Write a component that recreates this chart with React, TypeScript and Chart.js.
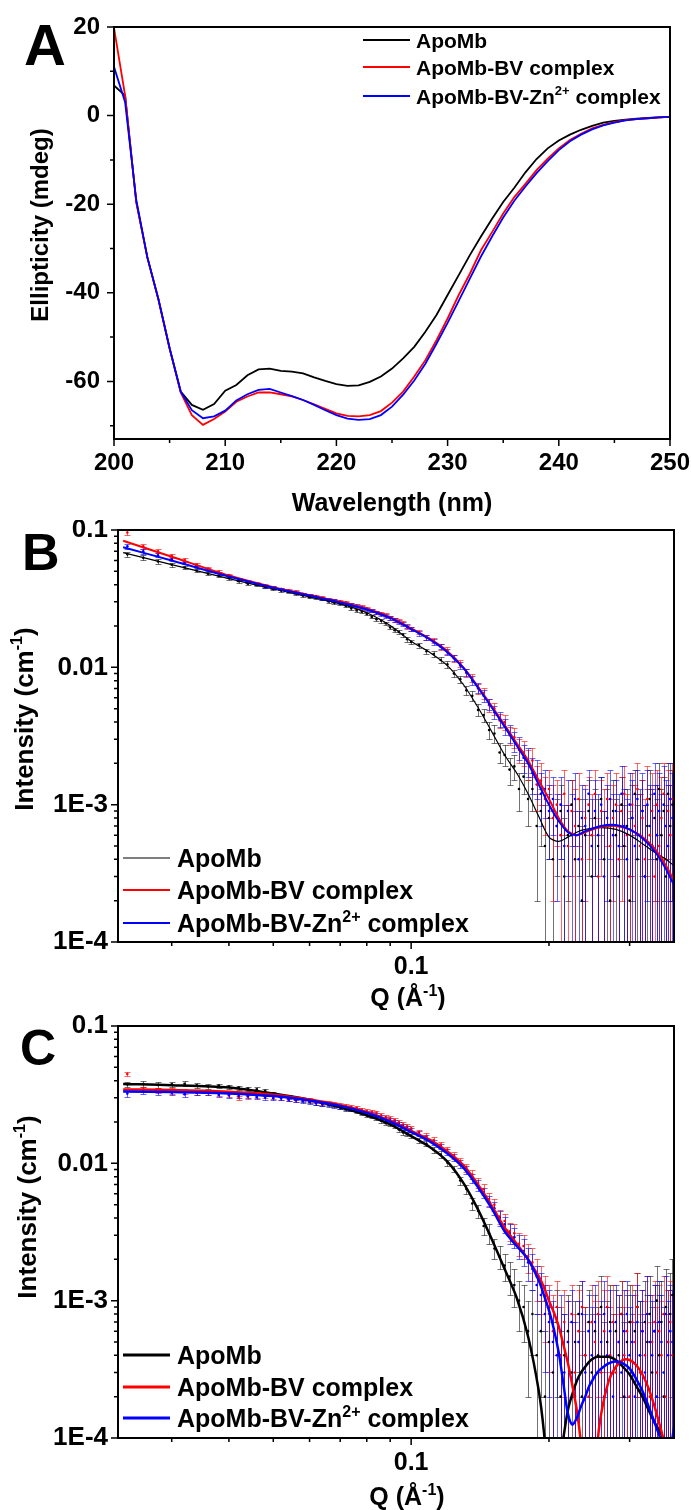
import React, { useEffect, useRef } from "react";
import { Chart, registerables } from "chart.js";
Chart.register(...registerables);

const FONT = '"Liberation Sans", Arial, Helvetica, sans-serif';
const BLACK = "#000000";
const RED = "#ff0000";
const BLUE = "#0000ff";

// ---------------- Panel A : CD spectra ----------------
const wavelength = [
  200, 201, 202, 203, 204, 205, 206, 207, 208, 209,
  210, 211, 212, 213, 214, 215, 216, 217, 218, 219,
  220, 221, 222, 223, 224, 225, 226, 227, 228, 229,
  230, 231, 232, 233, 234, 235, 236, 237, 238, 239,
  240, 241, 242, 243, 244, 245, 246, 247, 248, 249, 250,
];
const cdApoMb = [
  6.8, 4.5, -19.5, -32, -41.5, -52.5, -62.3, -65.3, -66.4, -65.1,
  -62.1, -60.8, -58.6, -57.3, -57.1, -57.6, -57.8, -58.2, -59.1, -59.9,
  -60.6, -61.0, -60.9, -60.1, -58.9, -57.1, -54.8, -52.2, -48.8, -45.0,
  -40.5, -36.0, -31.5, -27.3, -23.3, -19.5, -16.3, -12.8, -9.8, -7.4,
  -5.6, -4.3, -3.2, -2.3, -1.6, -1.2, -0.9, -0.7, -0.5, -0.4, -0.3,
];
const cdApoMbBV = [
  19.8, 4.5, -19.5, -32, -41.5, -52.5, -62.5, -67.6, -69.8, -68.5,
  -66.8, -64.6, -63.4, -62.5, -62.5, -62.9, -63.4, -64.2, -65.2, -66.2,
  -67.2, -67.8, -67.9, -67.6, -66.7, -64.8, -62.3, -58.9, -55.2, -50.7,
  -45.8, -40.5, -35.7, -30.4, -26.3, -22.1, -18.4, -15.4, -12.3, -9.7,
  -7.4, -5.5, -4.1, -2.9, -2.1, -1.5, -1.0, -0.8, -0.6, -0.4, -0.3,
];
const cdApoMbBVZn = [
  11.0, 3.0, -19.0, -32, -41.5, -52.5, -62.3, -66.5, -68.3, -67.9,
  -66.6, -64.3, -62.9, -61.9, -61.7, -62.5, -63.3, -64.2, -65.3, -66.5,
  -67.6, -68.4, -68.7, -68.5, -67.6, -65.7, -63.0, -59.8, -56.0, -51.5,
  -46.8, -41.8, -36.8, -31.8, -27.3, -23.0, -19.2, -16.0, -13.0, -10.3,
  -7.8, -5.8, -4.3, -3.1, -2.2, -1.6, -1.1, -0.8, -0.6, -0.4, -0.3,
];
const aXTicks = [200, 210, 220, 230, 240, 250];
const aXTickLabels = ["200", "210", "220", "230", "240", "250"];
const aXMinor = [205, 215, 225, 235, 245];
const aYTicks = [20, 0, -20, -40, -60];
const aYTickLabels = ["20", "0", "-20", "-40", "-60"];
const aYMinor = [10, -10, -30, -50, -70];

// ---------------- Panels B, C : SAXS ----------------
const qData = [
  0.024, 0.026, 0.028, 0.030, 0.032, 0.034, 0.036, 0.038, 0.040, 0.042,
  0.044, 0.046, 0.048, 0.050, 0.052, 0.054, 0.056, 0.058, 0.060, 0.062,
  0.064, 0.066, 0.068, 0.070, 0.072, 0.074, 0.076, 0.078, 0.080, 0.082,
  0.084, 0.086, 0.088, 0.090, 0.092, 0.094, 0.096, 0.098, 0.100,
  0.104, 0.108, 0.112, 0.116, 0.120, 0.124, 0.128, 0.132, 0.136, 0.140,
  0.144, 0.148, 0.152, 0.156, 0.160, 0.164, 0.168, 0.172, 0.176, 0.180,
  0.184, 0.188, 0.192, 0.196, 0.200, 0.204, 0.208, 0.212, 0.216, 0.220,
  0.224, 0.228, 0.232, 0.236, 0.240, 0.244, 0.248, 0.252, 0.256, 0.260,
  0.264, 0.268, 0.272, 0.276, 0.280, 0.284, 0.288, 0.292, 0.296, 0.300,
  0.304, 0.308, 0.312, 0.316, 0.320, 0.324, 0.328, 0.332, 0.336, 0.340,
  0.344, 0.348, 0.352, 0.356, 0.360, 0.364, 0.368, 0.372,
];

// Panel B data
const bApoMbI = [
  0.0665, 0.0628, 0.0590, 0.0558, 0.0533, 0.0505, 0.0480, 0.0462, 0.0445, 0.0423,
  0.0406, 0.0398, 0.0386, 0.0372, 0.0362, 0.0355, 0.0346, 0.0333, 0.0324, 0.0320,
  0.0313, 0.0302, 0.0294, 0.0289, 0.0280, 0.0268, 0.0259, 0.0254, 0.0245, 0.0233,
  0.0224, 0.0218, 0.0209, 0.0195, 0.0186, 0.0181, 0.0173, 0.0160, 0.0153,
  0.0145, 0.0131, 0.0125, 0.0113, 0.0105, 0.0090, 0.0082, 0.0068, 0.0062, 0.0049,
  0.0045, 0.0035, 0.0033, 0.0024, 0.0023, 0.0018, 0.0019, 0.0013, 0.0016, 0.0011,
  0.0013, 0.0007, 0.0009, 0.0005, 0.0008, 0.0004, 0.0007, 0.0009, 0.0003, 0.0006,
  0.0010, 0.0004, 0.0007, 0.0002, 0.0006, 0.0009, 0.0003, 0.0008, 0.0005, 0.0011,
  0.0004, 0.0007, 0.0002, 0.0009, 0.0006, 0.0003, 0.0010, 0.0005, 0.0007, 0.0002,
  0.0008, 0.0012, 0.0004, 0.0006, 0.0009, 0.0003, 0.0007, 0.0011, 0.0005, 0.0008,
  0.0004, 0.0013, 0.0006, 0.0009, 0.0003, 0.0012, 0.0007, 0.0010,
];
const bApoMbErr = [
  0.0030, 0.0026, 0.0022, 0.0019, 0.0016, 0.0014, 0.0012, 0.0011, 0.0010, 0.0009,
  0.0009, 0.0008, 0.0008, 0.0007, 0.0007, 0.0007, 0.0007, 0.0006, 0.0006, 0.0006,
  0.0006, 0.0006, 0.0006, 0.0006, 0.0006, 0.0006, 0.0006, 0.0006, 0.0006, 0.0006,
  0.0006, 0.0006, 0.0006, 0.0006, 0.0006, 0.0006, 0.0006, 0.0006, 0.0006,
  0.0006, 0.0006, 0.0006, 0.0006, 0.0006, 0.0005, 0.0005, 0.0005, 0.0005, 0.0005,
  0.0005, 0.0005, 0.0005, 0.0004, 0.0004, 0.0004, 0.0004, 0.0004, 0.0004, 0.0004,
  0.0004, 0.0005, 0.0004, 0.0005, 0.0004, 0.0005, 0.0004, 0.0005, 0.0005, 0.0004,
  0.0005, 0.0005, 0.0004, 0.0005, 0.0005, 0.0006, 0.0005, 0.0005, 0.0006, 0.0005,
  0.0005, 0.0006, 0.0005, 0.0006, 0.0005, 0.0006, 0.0006, 0.0005, 0.0006, 0.0006,
  0.0006, 0.0006, 0.0006, 0.0006, 0.0006, 0.0007, 0.0006, 0.0007, 0.0007, 0.0006,
  0.0007, 0.0007, 0.0007, 0.0007, 0.0007, 0.0008, 0.0007, 0.0008,
];
const bBVI = [
  0.0960, 0.0760, 0.0700, 0.0648, 0.0605, 0.0560, 0.0522, 0.0497, 0.0470, 0.0440,
  0.0418, 0.0408, 0.0395, 0.0380, 0.0371, 0.0364, 0.0355, 0.0342, 0.0334, 0.0330,
  0.0322, 0.0310, 0.0305, 0.0302, 0.0297, 0.0286, 0.0279, 0.0276, 0.0269, 0.0258,
  0.0251, 0.0247, 0.0240, 0.0228, 0.0220, 0.0216, 0.0210, 0.0197, 0.0190,
  0.0181, 0.0165, 0.0157, 0.0141, 0.0133, 0.0116, 0.0107, 0.0091, 0.0084, 0.0070,
  0.0065, 0.0053, 0.0050, 0.0041, 0.0040, 0.0032, 0.0031, 0.0025, 0.0024, 0.0020,
  0.0021, 0.0014, 0.0015, 0.0011, 0.0013, 0.0008, 0.0010, 0.0006, 0.0012, 0.0005,
  0.0009, 0.0007, 0.0011, 0.0004, 0.0008, 0.0010, 0.0006, 0.0012, 0.0003, 0.0009,
  0.0007, 0.0011, 0.0005, 0.0008, 0.0010, 0.0004, 0.0009, 0.0012, 0.0006, 0.0003,
  0.0010, 0.0007, 0.0013, 0.0005, 0.0008, 0.0004, 0.0011, 0.0006, 0.0009, 0.0003,
  0.0010, 0.0005, 0.0008, 0.0012, 0.0004, 0.0009, 0.0006, 0.0011,
];
const bBVErr = [
  0.0040, 0.0030, 0.0024, 0.0020, 0.0017, 0.0015, 0.0013, 0.0012, 0.0011, 0.0010,
  0.0010, 0.0009, 0.0009, 0.0008, 0.0008, 0.0008, 0.0008, 0.0007, 0.0007, 0.0007,
  0.0007, 0.0007, 0.0007, 0.0007, 0.0007, 0.0007, 0.0007, 0.0007, 0.0007, 0.0007,
  0.0007, 0.0007, 0.0007, 0.0007, 0.0007, 0.0007, 0.0007, 0.0007, 0.0007,
  0.0007, 0.0007, 0.0007, 0.0007, 0.0007, 0.0006, 0.0006, 0.0006, 0.0006, 0.0006,
  0.0006, 0.0006, 0.0005, 0.0005, 0.0005, 0.0005, 0.0005, 0.0005, 0.0005, 0.0005,
  0.0005, 0.0005, 0.0005, 0.0005, 0.0005, 0.0006, 0.0005, 0.0006, 0.0006, 0.0005,
  0.0006, 0.0006, 0.0006, 0.0005, 0.0006, 0.0006, 0.0006, 0.0006, 0.0005, 0.0006,
  0.0006, 0.0006, 0.0006, 0.0006, 0.0007, 0.0006, 0.0007, 0.0007, 0.0006, 0.0006,
  0.0007, 0.0007, 0.0007, 0.0007, 0.0007, 0.0007, 0.0008, 0.0007, 0.0008, 0.0007,
  0.0008, 0.0008, 0.0008, 0.0008, 0.0008, 0.0009, 0.0008, 0.0009,
];
const bZnI = [
  0.0760, 0.0700, 0.0655, 0.0612, 0.0578, 0.0545, 0.0512, 0.0484, 0.0460, 0.0438,
  0.0420, 0.0404, 0.0390, 0.0382, 0.0372, 0.0360, 0.0350, 0.0341, 0.0334, 0.0326,
  0.0318, 0.0312, 0.0306, 0.0298, 0.0292, 0.0287, 0.0280, 0.0272, 0.0265, 0.0259,
  0.0252, 0.0243, 0.0236, 0.0229, 0.0221, 0.0214, 0.0206, 0.0199, 0.0191,
  0.0177, 0.0166, 0.0153, 0.0142, 0.0129, 0.0117, 0.0103, 0.0092, 0.0080, 0.0071,
  0.0062, 0.0054, 0.0047, 0.0042, 0.0037, 0.0033, 0.0029, 0.0026, 0.0022, 0.0021,
  0.0017, 0.0016, 0.0012, 0.0013, 0.0009, 0.0011, 0.0007, 0.0010, 0.0005, 0.0009,
  0.0006, 0.0011, 0.0004, 0.0008, 0.0007, 0.0012, 0.0005, 0.0009, 0.0006, 0.0010,
  0.0003, 0.0008, 0.0011, 0.0006, 0.0009, 0.0005, 0.0012, 0.0007, 0.0004, 0.0010,
  0.0008, 0.0005, 0.0011, 0.0006, 0.0009, 0.0003, 0.0010, 0.0007, 0.0005, 0.0012,
  0.0006, 0.0009, 0.0004, 0.0010, 0.0007, 0.0005, 0.0011, 0.0008,
];
const bZnErr = [
  0.0032, 0.0027, 0.0022, 0.0019, 0.0016, 0.0014, 0.0013, 0.0012, 0.0011, 0.0010,
  0.0010, 0.0009, 0.0009, 0.0008, 0.0008, 0.0008, 0.0008, 0.0007, 0.0007, 0.0007,
  0.0007, 0.0007, 0.0007, 0.0007, 0.0007, 0.0007, 0.0007, 0.0007, 0.0007, 0.0007,
  0.0007, 0.0007, 0.0007, 0.0007, 0.0007, 0.0007, 0.0007, 0.0007, 0.0007,
  0.0007, 0.0007, 0.0007, 0.0006, 0.0006, 0.0006, 0.0006, 0.0006, 0.0006, 0.0006,
  0.0006, 0.0005, 0.0005, 0.0005, 0.0005, 0.0005, 0.0005, 0.0005, 0.0005, 0.0005,
  0.0005, 0.0005, 0.0005, 0.0005, 0.0005, 0.0005, 0.0005, 0.0006, 0.0005, 0.0006,
  0.0006, 0.0006, 0.0005, 0.0006, 0.0006, 0.0006, 0.0006, 0.0006, 0.0006, 0.0006,
  0.0006, 0.0006, 0.0007, 0.0006, 0.0006, 0.0007, 0.0007, 0.0006, 0.0007, 0.0007,
  0.0007, 0.0007, 0.0007, 0.0007, 0.0008, 0.0007, 0.0008, 0.0007, 0.0008, 0.0008,
  0.0008, 0.0008, 0.0008, 0.0009, 0.0008, 0.0009, 0.0009, 0.0009,
];
const qFitB = [
  0.0235, 0.03, 0.04, 0.05, 0.06, 0.07, 0.08, 0.09, 0.10, 0.11,
  0.12, 0.13, 0.14, 0.15, 0.16, 0.17, 0.18, 0.19, 0.20, 0.21,
  0.22, 0.23, 0.24, 0.26, 0.28, 0.30, 0.32, 0.34, 0.36, 0.375,
];
const bApoMbFit = [
  0.0684, 0.0560, 0.0442, 0.0372, 0.0326, 0.0290, 0.0250, 0.0202, 0.0155, 0.0128,
  0.0103, 0.0075, 0.0051, 0.0034, 0.0023, 0.0017, 0.0012, 0.00082, 0.00058, 0.00054,
  0.00058, 0.00063, 0.00066, 0.00068, 0.00066, 0.00060, 0.00052, 0.00045, 0.00040, 0.00036,
];
const bBVFit = [
  0.0836, 0.0639, 0.0466, 0.0383, 0.0336, 0.0300, 0.0267, 0.0232, 0.0192, 0.0161,
  0.0131, 0.0100, 0.0072, 0.0052, 0.0038, 0.0028, 0.0021, 0.0015, 0.0011, 0.00080,
  0.00064, 0.00060, 0.00063, 0.00069, 0.00070, 0.00066, 0.00058, 0.00048, 0.00036, 0.00028,
];
const bZnFit = [
  0.0748, 0.0600, 0.0458, 0.0380, 0.0333, 0.0297, 0.0264, 0.0229, 0.0190, 0.0159,
  0.0129, 0.0099, 0.0071, 0.0051, 0.0037, 0.0027, 0.0020, 0.0014, 0.0010, 0.00076,
  0.00063, 0.00060, 0.00064, 0.00070, 0.00071, 0.00066, 0.00057, 0.00046, 0.00034, 0.00026,
];

// Panel C data
const cApoMbI = [
  0.0375, 0.0378, 0.0372, 0.0376, 0.0380, 0.0370, 0.0363, 0.0368, 0.0362, 0.0356,
  0.0350, 0.0346, 0.0338, 0.0322, 0.0312, 0.0304, 0.0296, 0.0290, 0.0283, 0.0276,
  0.0270, 0.0268, 0.0263, 0.0254, 0.0248, 0.0245, 0.0240, 0.0231, 0.0223, 0.0219,
  0.0214, 0.0204, 0.0196, 0.0192, 0.0186, 0.0176, 0.0168, 0.0163, 0.0158,
  0.0147, 0.0139, 0.0125, 0.0116, 0.0101, 0.0091, 0.0075, 0.0065, 0.0051, 0.0045,
  0.0035, 0.0031, 0.0024, 0.0021, 0.0018, 0.0015, 0.0013, 0.0010, 0.0009, 0.0006,
  0.0008, 0.0004, 0.0006, 0.0002, 0.0005, 0.0003, 0.0007, 0.0002, 0.0004, 0.0006,
  0.0003, 0.0005, 0.0008, 0.0002, 0.0004, 0.0007, 0.0003, 0.0006, 0.0004, 0.0009,
  0.0002, 0.0005, 0.0007, 0.0003, 0.0006, 0.0004, 0.0008, 0.0002, 0.0005, 0.0007,
  0.0003, 0.0006, 0.0009, 0.0004, 0.0002, 0.0007, 0.0005, 0.0008, 0.0003, 0.0006,
  0.0010, 0.0004, 0.0007, 0.0002, 0.0009, 0.0005, 0.0008, 0.0011,
];
const cApoMbErr = [
  0.0018, 0.0017, 0.0016, 0.0015, 0.0015, 0.0014, 0.0013, 0.0013, 0.0012, 0.0012,
  0.0011, 0.0011, 0.0010, 0.0010, 0.0009, 0.0009, 0.0009, 0.0009, 0.0008, 0.0008,
  0.0007, 0.0007, 0.0006, 0.0006, 0.0006, 0.0006, 0.0006, 0.0006, 0.0006, 0.0006,
  0.0006, 0.0006, 0.0006, 0.0006, 0.0006, 0.0006, 0.0006, 0.0006, 0.0006,
  0.0006, 0.0006, 0.0006, 0.0006, 0.0005, 0.0005, 0.0005, 0.0005, 0.0005, 0.0005,
  0.0005, 0.0005, 0.0004, 0.0004, 0.0004, 0.0004, 0.0004, 0.0004, 0.0004, 0.0004,
  0.0004, 0.0004, 0.0004, 0.0004, 0.0004, 0.0004, 0.0005, 0.0004, 0.0004, 0.0005,
  0.0004, 0.0005, 0.0005, 0.0004, 0.0005, 0.0005, 0.0005, 0.0005, 0.0005, 0.0006,
  0.0005, 0.0005, 0.0006, 0.0005, 0.0006, 0.0005, 0.0006, 0.0005, 0.0006, 0.0006,
  0.0005, 0.0006, 0.0007, 0.0006, 0.0005, 0.0007, 0.0006, 0.0007, 0.0006, 0.0007,
  0.0008, 0.0007, 0.0007, 0.0006, 0.0008, 0.0007, 0.0008, 0.0009,
];
const cBVI = [
  0.0447, 0.0345, 0.0340, 0.0336, 0.0333, 0.0326, 0.0330, 0.0322, 0.0318, 0.0300,
  0.0305, 0.0309, 0.0311, 0.0304, 0.0300, 0.0293, 0.0287, 0.0291, 0.0289, 0.0282,
  0.0276, 0.0274, 0.0270, 0.0265, 0.0262, 0.0258, 0.0254, 0.0246, 0.0240, 0.0237,
  0.0233, 0.0224, 0.0217, 0.0213, 0.0207, 0.0199, 0.0192, 0.0186, 0.0180,
  0.0169, 0.0158, 0.0148, 0.0137, 0.0126, 0.0114, 0.0104, 0.0093, 0.0083, 0.0072,
  0.0065, 0.0055, 0.0050, 0.0041, 0.0038, 0.0032, 0.0031, 0.0026, 0.0025, 0.0021,
  0.0019, 0.0015, 0.0013, 0.0010, 0.0008, 0.0006, 0.0009, 0.0004, 0.0007, 0.0005,
  0.0008, 0.0003, 0.0006, 0.0009, 0.0004, 0.0002, 0.0007, 0.0005, 0.0008, 0.0003,
  0.0006, 0.0009, 0.0004, 0.0007, 0.0003, 0.0005, 0.0008, 0.0004, 0.0006, 0.0002,
  0.0007, 0.0005, 0.0009, 0.0003, 0.0006, 0.0004, 0.0008, 0.0002, 0.0005, 0.0007,
  0.0003, 0.0006, 0.0004, 0.0008, 0.0002, 0.0005, 0.0007, 0.0004,
];
const cBVErr = [
  0.0018, 0.0017, 0.0016, 0.0015, 0.0015, 0.0014, 0.0013, 0.0012, 0.0012, 0.0011,
  0.0011, 0.0010, 0.0010, 0.0010, 0.0009, 0.0009, 0.0009, 0.0009, 0.0009, 0.0008,
  0.0008, 0.0008, 0.0008, 0.0008, 0.0008, 0.0008, 0.0008, 0.0008, 0.0008, 0.0007,
  0.0007, 0.0007, 0.0007, 0.0007, 0.0007, 0.0007, 0.0007, 0.0007, 0.0007,
  0.0007, 0.0007, 0.0007, 0.0007, 0.0006, 0.0006, 0.0006, 0.0006, 0.0006, 0.0006,
  0.0006, 0.0006, 0.0005, 0.0005, 0.0005, 0.0005, 0.0005, 0.0005, 0.0005, 0.0005,
  0.0005, 0.0005, 0.0005, 0.0005, 0.0005, 0.0005, 0.0005, 0.0005, 0.0005, 0.0005,
  0.0005, 0.0005, 0.0006, 0.0005, 0.0005, 0.0005, 0.0006, 0.0005, 0.0006, 0.0005,
  0.0006, 0.0006, 0.0005, 0.0006, 0.0005, 0.0006, 0.0006, 0.0005, 0.0006, 0.0005,
  0.0006, 0.0006, 0.0007, 0.0005, 0.0006, 0.0006, 0.0007, 0.0005, 0.0006, 0.0007,
  0.0006, 0.0007, 0.0006, 0.0007, 0.0006, 0.0007, 0.0007, 0.0007,
];
const cZnI = [
  0.0322, 0.0334, 0.0330, 0.0326, 0.0318, 0.0329, 0.0325, 0.0315, 0.0312, 0.0310,
  0.0308, 0.0303, 0.0300, 0.0298, 0.0296, 0.0291, 0.0288, 0.0284, 0.0280, 0.0273,
  0.0268, 0.0266, 0.0262, 0.0256, 0.0252, 0.0248, 0.0244, 0.0237, 0.0232, 0.0229,
  0.0224, 0.0216, 0.0210, 0.0206, 0.0200, 0.0193, 0.0187, 0.0181, 0.0175,
  0.0164, 0.0154, 0.0143, 0.0133, 0.0121, 0.0110, 0.0099, 0.0089, 0.0078, 0.0069,
  0.0061, 0.0053, 0.0047, 0.0040, 0.0036, 0.0031, 0.0029, 0.0025, 0.0023, 0.0019,
  0.0017, 0.0013, 0.0011, 0.0008, 0.0007, 0.0005, 0.0004, 0.0006, 0.0003, 0.0005,
  0.0007, 0.0002, 0.0005, 0.0008, 0.0003, 0.0006, 0.0004, 0.0007, 0.0003, 0.0005,
  0.0008, 0.0004, 0.0006, 0.0002, 0.0007, 0.0005, 0.0003, 0.0006, 0.0008, 0.0004,
  0.0005, 0.0002, 0.0007, 0.0004, 0.0006, 0.0003, 0.0008, 0.0005, 0.0004, 0.0006,
  0.0002, 0.0007, 0.0005, 0.0003, 0.0008, 0.0004, 0.0006, 0.0005,
];
const cZnErr = [
  0.0016, 0.0016, 0.0015, 0.0014, 0.0014, 0.0013, 0.0012, 0.0012, 0.0011, 0.0010,
  0.0010, 0.0009, 0.0009, 0.0009, 0.0009, 0.0008, 0.0008, 0.0008, 0.0008, 0.0008,
  0.0008, 0.0008, 0.0008, 0.0007, 0.0007, 0.0007, 0.0007, 0.0007, 0.0007, 0.0007,
  0.0007, 0.0007, 0.0007, 0.0007, 0.0007, 0.0007, 0.0007, 0.0007, 0.0007,
  0.0007, 0.0007, 0.0006, 0.0006, 0.0006, 0.0006, 0.0006, 0.0006, 0.0006, 0.0006,
  0.0005, 0.0005, 0.0005, 0.0005, 0.0005, 0.0005, 0.0005, 0.0005, 0.0005, 0.0005,
  0.0005, 0.0005, 0.0005, 0.0005, 0.0005, 0.0005, 0.0005, 0.0005, 0.0005, 0.0005,
  0.0005, 0.0005, 0.0005, 0.0006, 0.0005, 0.0005, 0.0005, 0.0006, 0.0005, 0.0005,
  0.0006, 0.0005, 0.0006, 0.0005, 0.0006, 0.0006, 0.0005, 0.0006, 0.0006, 0.0005,
  0.0006, 0.0005, 0.0006, 0.0006, 0.0006, 0.0005, 0.0007, 0.0006, 0.0006, 0.0007,
  0.0005, 0.0007, 0.0006, 0.0006, 0.0007, 0.0006, 0.0007, 0.0007,
];
const qFitC = [
  0.0235, 0.03, 0.04, 0.05, 0.06, 0.07, 0.08, 0.09, 0.10, 0.11,
  0.12, 0.13, 0.14, 0.15, 0.16, 0.17, 0.18, 0.19, 0.195, 0.20,
  0.205, 0.21, 0.215, 0.22, 0.225, 0.23, 0.235, 0.24, 0.245, 0.25,
  0.255, 0.26, 0.27, 0.28, 0.29, 0.30, 0.31, 0.32, 0.33, 0.34,
  0.35, 0.355, 0.36, 0.365, 0.37, 0.375,
];
const cApoMbFit = [
  0.0378, 0.0371, 0.0356, 0.0322, 0.0290, 0.0256, 0.0224, 0.0192, 0.0158, 0.0131,
  0.0103, 0.0072, 0.0046, 0.0028, 0.0017, 0.00105, 0.00055, 0.00022, 0.00011, 0.00004,
  0.00001, 0.00006, 0.00010, 0.00016, 0.00021, 0.00026, 0.00030, 0.00033, 0.00036, 0.00038,
  0.00039, 0.00039, 0.00039, 0.00037, 0.00033, 0.00029, 0.00024, 0.00020, 0.00016, 0.00013,
  0.00011, 0.00010, 0.00009, 0.00008, 0.00008, 0.00009,
];
const cBVFit = [
  0.0345, 0.0342, 0.0332, 0.0316, 0.0292, 0.0266, 0.0236, 0.0204, 0.0172, 0.0148,
  0.0122, 0.0097, 0.0070, 0.0049, 0.0034, 0.0026, 0.0020, 0.0015, 0.00125, 0.0010,
  0.00082, 0.00065, 0.00048, 0.00035, 0.00024, 0.00016, 0.00009, 0.00004, 0.000015, 0.00004,
  0.00009, 0.00015, 0.00026, 0.00033, 0.00037, 0.00037, 0.00034, 0.00029, 0.00023, 0.00017,
  0.00012, 0.00010, 0.00008, 0.00007, 0.00008, 0.00011,
];
const cZnFit = [
  0.0333, 0.0331, 0.0323, 0.0309, 0.0287, 0.0262, 0.0233, 0.0201, 0.0169, 0.0144,
  0.0118, 0.0093, 0.0067, 0.0047, 0.0032, 0.0025, 0.0020, 0.0014, 0.0011, 0.00085,
  0.00062, 0.00042, 0.00025, 0.00015, 0.000125, 0.00014, 0.00017, 0.00020, 0.00024, 0.00027,
  0.00030, 0.00032, 0.00035, 0.00036, 0.00035, 0.00032, 0.00027, 0.00022, 0.00017, 0.00013,
  0.00010, 0.00009, 0.00008, 0.00008, 0.00009, 0.00012,
];

const qTicks = [0.1];
const qTickLabels = ["0.1"];
const qMinor = [0.03, 0.04, 0.05, 0.06, 0.07, 0.08, 0.09, 0.2, 0.3];
const iTicks = [0.1, 0.01, 0.001, 0.0001];
const iTickLabels = ["0.1", "0.01", "1E-3", "1E-4"];
const iMinor = [
  0.0002, 0.0003, 0.0004, 0.0005, 0.0006, 0.0007, 0.0008, 0.0009,
  0.002, 0.003, 0.004, 0.005, 0.006, 0.007, 0.008, 0.009,
  0.02, 0.03, 0.04, 0.05, 0.06, 0.07, 0.08, 0.09,
];

const seriesNames = ["ApoMb", "ApoMb-BV complex", "ApoMb-BV-Zn"];

// ---------------- helpers ----------------
type Part = { t: string; sup?: boolean };

function drawRich(
  ctx: CanvasRenderingContext2D,
  parts: Part[],
  x: number,
  y: number,
  size: number,
  align: "left" | "center",
  rotate = false
) {
  ctx.save();
  ctx.translate(x, y);
  if (rotate) ctx.rotate(-Math.PI / 2);
  const supSize = Math.round(size * 0.62);
  const widths = parts.map((p) => {
    ctx.font = `bold ${p.sup ? supSize : size}px ${FONT}`;
    return ctx.measureText(p.t).width;
  });
  const total = widths.reduce((a, b) => a + b, 0);
  let cx = align === "center" ? -total / 2 : 0;
  const base = size * 0.36;
  ctx.fillStyle = "#000";
  ctx.textAlign = "left";
  ctx.textBaseline = "alphabetic";
  parts.forEach((p, i) => {
    ctx.font = `bold ${p.sup ? supSize : size}px ${FONT}`;
    ctx.fillText(p.t, cx, p.sup ? base - size * 0.42 : base);
    cx += widths[i];
  });
  ctx.restore();
}

interface LegendItem { parts: Part[]; color: string; width: number }
interface ErrSeries { q: number[]; I: number[]; e: number[]; color: string }
interface PanelSpec {
  id: string;
  letter: string; letterX: number; letterY: number; letterSize: number;
  xTitle: Part[]; xTitleX: number; xTitleY: number; xTitleSize: number;
  yTitle: Part[]; yTitleX: number; yTitleY: number; yTitleSize: number;
  legend: { x0: number; x1: number; tx: number; ys: number[]; size: number; items: LegendItem[] };
  xMajor: number[]; xMinor: number[]; yMajor: number[]; yMinor: number[];
  errors?: ErrSeries[];
}

function panelPlugin(spec: PanelSpec) {
  return {
    id: spec.id,
    beforeDatasetsDraw(chart: any) {
      if (!spec.errors) return;
      const { ctx, chartArea: a } = chart;
      const xs = chart.scales.x;
      const ys = chart.scales.y;
      ctx.save();
      ctx.beginPath();
      ctx.rect(a.left, a.top, a.right - a.left, a.bottom - a.top);
      ctx.clip();
      for (const s of spec.errors) {
        ctx.strokeStyle = s.color;
        ctx.lineWidth = 1;
        ctx.beginPath();
        for (let i = 0; i < s.q.length; i++) {
          const px = Math.round(xs.getPixelForValue(s.q[i])) + 0.5;
          const hi = s.I[i] + s.e[i];
          const lo = s.I[i] - s.e[i];
          const pyHi = Math.round(ys.getPixelForValue(hi)) + 0.5;
          const pyLo = lo > 0 ? Math.round(ys.getPixelForValue(lo)) + 0.5 : a.bottom + 5;
          ctx.moveTo(px, pyHi);
          ctx.lineTo(px, pyLo);
          ctx.moveTo(px - 3, pyHi);
          ctx.lineTo(px + 3, pyHi);
          if (lo > 0) {
            ctx.moveTo(px - 3, pyLo);
            ctx.lineTo(px + 3, pyLo);
          }
        }
        ctx.stroke();
      }
      ctx.restore();
    },
    afterDraw(chart: any) {
      const { ctx, chartArea: a } = chart;
      const xs = chart.scales.x;
      const ys = chart.scales.y;
      ctx.save();
      ctx.strokeStyle = "#000";
      ctx.lineWidth = 2;
      ctx.strokeRect(a.left, a.top, a.right - a.left, a.bottom - a.top);
      ctx.lineWidth = 1.5;
      ctx.beginPath();
      const tick = (v: number, len: number, axis: "x" | "y") => {
        if (axis === "x") {
          const p = xs.getPixelForValue(v);
          if (p < a.left - 0.5 || p > a.right + 0.5) return;
          ctx.moveTo(p, a.bottom);
          ctx.lineTo(p, a.bottom + len);
        } else {
          const p = ys.getPixelForValue(v);
          if (p < a.top - 0.5 || p > a.bottom + 0.5) return;
          ctx.moveTo(a.left, p);
          ctx.lineTo(a.left - len, p);
        }
      };
      spec.xMajor.forEach((v) => tick(v, 7, "x"));
      spec.xMinor.forEach((v) => tick(v, 4, "x"));
      spec.yMajor.forEach((v) => tick(v, 7, "y"));
      spec.yMinor.forEach((v) => tick(v, 4, "y"));
      ctx.stroke();
      drawRich(ctx, spec.xTitle, spec.xTitleX, spec.xTitleY, spec.xTitleSize, "center");
      drawRich(ctx, spec.yTitle, spec.yTitleX, spec.yTitleY, spec.yTitleSize, "center", true);
      const lg = spec.legend;
      lg.items.forEach((it, i) => {
        const y = lg.ys[i];
        ctx.strokeStyle = it.color;
        ctx.lineWidth = it.width;
        ctx.beginPath();
        ctx.moveTo(lg.x0, y);
        ctx.lineTo(lg.x1, y);
        ctx.stroke();
        drawRich(ctx, it.parts, lg.tx, y, lg.size, "left");
      });
      ctx.fillStyle = "#000";
      ctx.font = `bold ${spec.letterSize}px ${FONT}`;
      ctx.textAlign = "left";
      ctx.textBaseline = "alphabetic";
      ctx.fillText(spec.letter, spec.letterX, spec.letterY);
      ctx.restore();
    },
  };
}

function labelFor(values: number[], labels: string[]) {
  return (v: any) => {
    const i = values.findIndex((t) => Math.abs(t - v) <= Math.abs(t) * 1e-6 + 1e-12);
    return i >= 0 ? labels[i] : "";
  };
}

function legendItems(widths: number[]): LegendItem[] {
  return [
    { parts: [{ t: seriesNames[0] }], color: BLACK, width: widths[0] },
    { parts: [{ t: seriesNames[1] }], color: RED, width: widths[1] },
    {
      parts: [{ t: seriesNames[2] }, { t: "2+", sup: true }, { t: " complex" }],
      color: BLUE,
      width: widths[2],
    },
  ];
}

function xy(xs: number[], ys: number[]) {
  return xs.map((x, i) => ({ x, y: ys[i] }));
}

// ---------------- chart builders ----------------
function makeA(canvas: HTMLCanvasElement) {
  const H = 520, top = 27, bottom = 439, left = 114, right = 670, W = 691;
  const spec: PanelSpec = {
    id: "panelA",
    letter: "A", letterX: 24, letterY: 65, letterSize: 58,
    xTitle: [{ t: "Wavelength (nm)" }], xTitleX: 392, xTitleY: 502, xTitleSize: 25,
    yTitle: [{ t: "Ellipticity (mdeg)" }], yTitleX: 39, yTitleY: 225, yTitleSize: 24,
    legend: { x0: 363, x1: 410, tx: 416, ys: [40, 67, 96], size: 21, items: legendItems([1.8, 1.8, 1.8]) },
    xMajor: aXTicks, xMinor: aXMinor, yMajor: aYTicks, yMinor: aYMinor,
  };
  const line = (data: number[], color: string) => ({
    data: xy(wavelength, data),
    showLine: true,
    borderColor: color,
    borderWidth: 1.8,
    pointRadius: 0,
    tension: 0,
    fill: false,
  });
  return new Chart(canvas, {
    type: "scatter",
    data: { datasets: [line(cdApoMbBVZn, BLUE), line(cdApoMbBV, RED), line(cdApoMb, BLACK)] as any },
    options: {
      responsive: false,
      animation: false,
      events: [],
      layout: { padding: { left: 0, top, right: W - right, bottom: 0 }, autoPadding: false } as any,
      plugins: { legend: { display: false }, tooltip: { enabled: false } },
      scales: {
        x: {
          type: "linear",
          min: 200,
          max: 250,
          afterBuildTicks: (s: any) => { s.ticks = aXTicks.map((v) => ({ value: v })); },
          afterFit: (s: any) => { s.height = H - bottom; s.paddingLeft = 0; s.paddingRight = 0; },
          ticks: {
            callback: labelFor(aXTicks, aXTickLabels),
            font: { family: FONT, size: 24, weight: "bold" },
            color: "#000", padding: 10, maxRotation: 0, autoSkip: false,
          },
          grid: { display: false, drawTicks: false },
          border: { display: false },
        },
        y: {
          type: "linear",
          min: -73,
          max: 20,
          afterBuildTicks: (s: any) => { s.ticks = aYTicks.map((v) => ({ value: v })); },
          afterFit: (s: any) => { s.width = left; s.paddingTop = 0; s.paddingBottom = 0; },
          ticks: {
            callback: labelFor(aYTicks, aYTickLabels),
            font: { family: FONT, size: 24, weight: "bold" },
            color: "#000", padding: 14, autoSkip: false,
          },
          grid: { display: false, drawTicks: false },
          border: { display: false },
        },
      },
    } as any,
    plugins: [panelPlugin(spec)],
  });
}

interface SaxsCfg {
  id: string; letter: string; letterX: number; letterY: number; letterSize: number;
  H: number; top: number; bottom: number;
  xTitleY: number; xTitleX: number; yTitleX: number; yTitleY: number;
  legendYs: number[]; legendWidths: number[];
  I: number[][]; E: number[][]; qFit: number[]; fits: number[][]; fitWidths: number[];
}

function makeSaxs(canvas: HTMLCanvasElement, c: SaxsCfg) {
  const left = 118, right = 674, W = 691;
  const colors = [BLACK, RED, BLUE];
  const errColors = ["rgba(0,0,0,0.55)", "rgba(255,0,0,0.6)", "rgba(0,0,255,0.6)"];
  const spec: PanelSpec = {
    id: c.id,
    letter: c.letter, letterX: c.letterX, letterY: c.letterY, letterSize: c.letterSize,
    xTitle: [{ t: "Q (Å" }, { t: "-1", sup: true }, { t: ")" }],
    xTitleX: c.xTitleX, xTitleY: c.xTitleY, xTitleSize: 25,
    yTitle: [{ t: "Intensity (cm" }, { t: "-1", sup: true }, { t: ")" }],
    yTitleX: c.yTitleX, yTitleY: c.yTitleY, yTitleSize: 26,
    legend: { x0: 123, x1: 170, tx: 177, ys: c.legendYs, size: 25, items: legendItems(c.legendWidths) },
    xMajor: qTicks, xMinor: qMinor, yMajor: iTicks, yMinor: iMinor,
    errors: [0, 1, 2].map((k) => ({ q: qData, I: c.I[k], e: c.E[k], color: errColors[k] })),
  };
  const fitDs = (k: number) => ({
    data: xy(c.qFit, c.fits[k]),
    showLine: true,
    borderColor: colors[k],
    borderWidth: c.fitWidths[k],
    pointRadius: 0,
    tension: 0.3,
    fill: false,
  });
  const ptDs = (k: number) => ({
    data: xy(qData, c.I[k]),
    showLine: false,
    pointRadius: 1.3,
    pointBorderWidth: 0,
    pointBackgroundColor: colors[k],
    borderColor: colors[k],
  });
  return new Chart(canvas, {
    type: "scatter",
    data: { datasets: [fitDs(2), fitDs(1), fitDs(0), ptDs(2), ptDs(1), ptDs(0)] as any },
    options: {
      responsive: false,
      animation: false,
      events: [],
      layout: { padding: { left: 0, top: c.top, right: W - right, bottom: 0 }, autoPadding: false } as any,
      plugins: { legend: { display: false }, tooltip: { enabled: false } },
      scales: {
        x: {
          type: "logarithmic",
          min: 0.0229,
          max: 0.375,
          afterBuildTicks: (s: any) => { s.ticks = qTicks.map((v) => ({ value: v })); },
          afterFit: (s: any) => { s.height = c.H - c.bottom; s.paddingLeft = 0; s.paddingRight = 0; },
          ticks: {
            callback: labelFor(qTicks, qTickLabels),
            font: { family: FONT, size: 25, weight: "bold" },
            color: "#000", padding: 10, maxRotation: 0, autoSkip: false,
          },
          grid: { display: false, drawTicks: false },
          border: { display: false },
        },
        y: {
          type: "logarithmic",
          min: 0.0001,
          max: 0.1,
          afterBuildTicks: (s: any) => { s.ticks = iTicks.map((v) => ({ value: v })); },
          afterFit: (s: any) => { s.width = left; s.paddingTop = 0; s.paddingBottom = 0; },
          ticks: {
            callback: labelFor(iTicks, iTickLabels),
            font: { family: FONT, size: 26, weight: "bold" },
            color: "#000", padding: 10, autoSkip: false,
          },
          grid: { display: false, drawTicks: false },
          border: { display: false },
        },
      },
    } as any,
    plugins: [panelPlugin(spec)],
  });
}

export default function App() {
  const refA = useRef<HTMLCanvasElement>(null);
  const refB = useRef<HTMLCanvasElement>(null);
  const refC = useRef<HTMLCanvasElement>(null);
  useEffect(() => {
    const charts = [
      makeA(refA.current!),
      makeSaxs(refB.current!, {
        id: "panelB", letter: "B", letterX: 22, letterY: 50, letterSize: 52,
        H: 490, top: 10, bottom: 422,
        xTitleX: 408, xTitleY: 477, yTitleX: 24, yTitleY: 199,
        legendYs: [338, 370, 403], legendWidths: [1.2, 2.2, 2.2],
        I: [bApoMbI, bBVI, bZnI], E: [bApoMbErr, bBVErr, bZnErr],
        qFit: qFitB, fits: [bApoMbFit, bBVFit, bZnFit], fitWidths: [1.2, 2, 2],
      }),
      makeSaxs(refC.current!, {
        id: "panelC", letter: "C", letterX: 20, letterY: 55, letterSize: 50,
        H: 500, top: 16, bottom: 428,
        xTitleX: 407, xTitleY: 486, yTitleX: 27, yTitleY: 197,
        legendYs: [345, 377, 408], legendWidths: [3, 3, 3],
        I: [cApoMbI, cBVI, cZnI], E: [cApoMbErr, cBVErr, cZnErr],
        qFit: qFitC, fits: [cApoMbFit, cBVFit, cZnFit], fitWidths: [2.5, 2.5, 2.5],
      }),
    ];
    return () => charts.forEach((ch) => ch.destroy());
  }, []);
  return (
    <div style={{ position: "absolute", left: 0, top: 0, width: 691, height: 1510, background: "#fff" }}>
      <canvas ref={refA} width={691} height={520} style={{ position: "absolute", left: 0, top: 0 }} />
      <canvas ref={refB} width={691} height={490} style={{ position: "absolute", left: 0, top: 520 }} />
      <canvas ref={refC} width={691} height={500} style={{ position: "absolute", left: 0, top: 1010 }} />
    </div>
  );
}
